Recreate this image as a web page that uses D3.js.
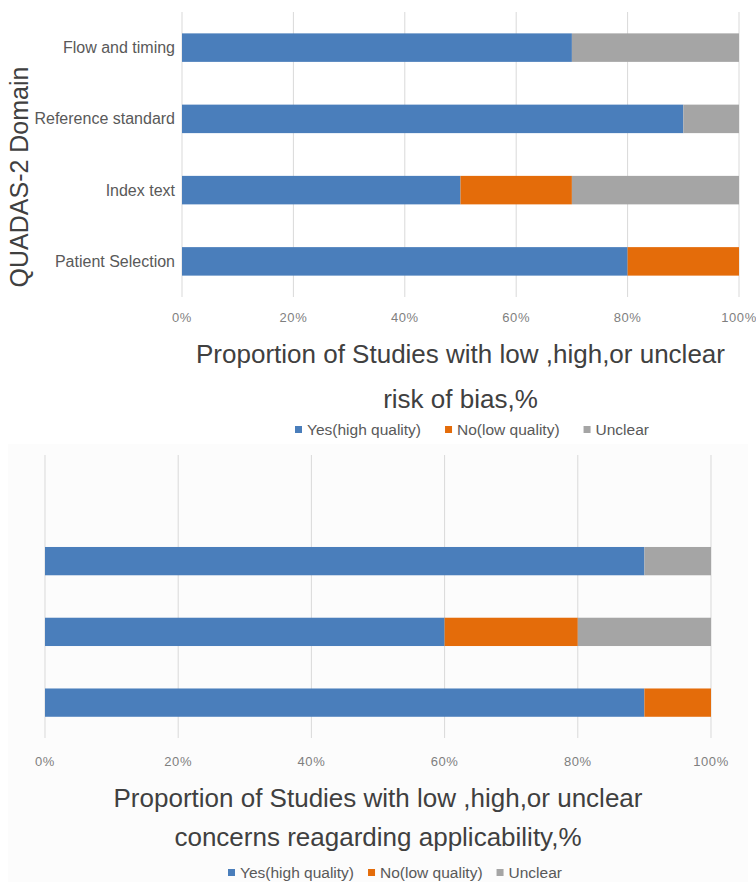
<!DOCTYPE html>
<html>
<head>
<meta charset="utf-8">
<script src="https://cdn.jsdelivr.net/npm/d3@7"></script>
<style>
  body { margin: 0; background: #fff; }
  text { font-family: "Liberation Sans", Arial, sans-serif; }
</style>
</head>
<body>
<div id="chart"></div>
<script>
// top panel: risk of bias
const biasDomains = ["Flow and timing", "Reference standard", "Index text", "Patient Selection"]
const biasYes = [70, 90, 50, 80]
const biasNo = [0, 0, 20, 20]
const biasUnclear = [30, 10, 30, 0]

// bottom panel: applicability concerns (no flow and timing row)
const applDomains = ["Flow and timing", "Reference standard", "Index text", "Patient Selection"]
const applYes = [null, 90, 60, 90]
const applNo = [null, 0, 20, 10]
const applUnclear = [null, 10, 20, 0]

const seriesNames = ["Yes(high quality)", "No(low quality)", "Unclear"]
const tickValues = [0, 20, 40, 60, 80, 100]
const tickLabels = ["0%", "20%", "40%", "60%", "80%", "100%"]

const width = 756, height = 882
const color = d3.scaleOrdinal()
  .domain(seriesNames)
  .range(["#4a7ebb", "#e46c0a", "#a5a5a5"])

const svg = d3.select("#chart").append("svg")
  .attr("width", width)
  .attr("height", height)
  .attr("viewBox", `0 0 ${width} ${height}`)

// faint panel behind the lower chart
svg.append("rect")
  .attr("x", 8).attr("y", 444)
  .attr("width", 740).attr("height", 438)
  .attr("fill", "#fcfcfc")

const drawPanel = opts => {
  const x = d3.scaleLinear().domain([0, 100]).range([opts.x0, opts.x1])
  const y = d3.scaleBand().domain(opts.domains).range([opts.y0, opts.y1]).paddingInner(0.6).paddingOuter(0.3)
  const g = svg.append("g")

  g.append("g").selectAll("line")
    .data(tickValues)
    .join("line")
      .attr("x1", d => x(d)).attr("x2", d => x(d))
      .attr("y1", opts.y0).attr("y2", opts.y1)
      .attr("stroke", "#d9d9d9")
      .attr("stroke-width", 1)

  const rows = opts.domains.map((d, i) => ({ domain: d, values: [opts.yes[i], opts.no[i], opts.unclear[i]] }))
    .filter(r => r.values[0] != null)

  rows.forEach(r => {
    let acc = 0
    r.values.forEach((v, j) => {
      if (v > 0) {
        g.append("rect")
          .attr("x", x(acc))
          .attr("y", y(r.domain))
          .attr("width", x(acc + v) - x(acc))
          .attr("height", y.bandwidth())
          .attr("fill", color(seriesNames[j]))
      }
      acc += v
    })
  })

  if (opts.showLabels) {
    g.append("g").selectAll("text")
      .data(opts.domains)
      .join("text")
        .attr("x", opts.x0 - 7)
        .attr("y", d => y(d) + y.bandwidth() / 2)
        .attr("dy", "0.35em")
        .attr("text-anchor", "end")
        .attr("font-size", 16)
        .attr("fill", "#595959")
        .text(d => d)
  }

  g.append("g").selectAll("text")
    .data(tickValues)
    .join("text")
      .attr("x", d => x(d))
      .attr("y", opts.tickY)
      .attr("text-anchor", "middle")
      .attr("font-size", 13)
      .attr("letter-spacing", "0.6px")
      .attr("fill", "#7f7f7f")
      .text((d, i) => tickLabels[i])

  const cx = (opts.x0 + opts.x1) / 2
  opts.title.forEach((t, i) => {
    g.append("text")
      .attr("x", cx)
      .attr("y", opts.titleY[i])
      .attr("text-anchor", "middle")
      .attr("font-size", 26)
      .attr("fill", "#404040")
      .text(t)
  })

  // legend
  let lx = opts.legendX
  seriesNames.forEach(name => {
    g.append("rect")
      .attr("x", lx).attr("y", opts.legendY - 4)
      .attr("width", 7).attr("height", 7)
      .attr("fill", color(name))
    const t = g.append("text")
      .attr("x", lx + 12)
      .attr("y", opts.legendY + 5)
      .attr("font-size", 15.5)
      .attr("fill", "#595959")
      .text(name)
    lx += 12 + t.node().getComputedTextLength() + opts.legendGap
  })
}

drawPanel({
  domains: biasDomains, yes: biasYes, no: biasNo, unclear: biasUnclear,
  x0: 182, x1: 739, y0: 12, y1: 297, showLabels: true,
  tickY: 322,
  title: ["Proportion of Studies with low ,high,or unclear", "risk of bias,%"],
  titleY: [363, 408],
  legendX: 295, legendY: 430, legendGap: 24
})

drawPanel({
  domains: applDomains, yes: applYes, no: applNo, unclear: applUnclear,
  x0: 45, x1: 711, y0: 455, y1: 738, showLabels: false,
  tickY: 766,
  title: ["Proportion of Studies with low ,high,or unclear", "concerns reagarding applicability,%"],
  titleY: [807, 846],
  legendX: 228, legendY: 873, legendGap: 14
})

svg.append("text")
  .attr("transform", "translate(28, 177) rotate(-90)")
  .attr("text-anchor", "middle")
  .attr("font-size", 25)
  .attr("fill", "#404040")
  .text("QUADAS-2 Domain")
</script>
</body>
</html>
